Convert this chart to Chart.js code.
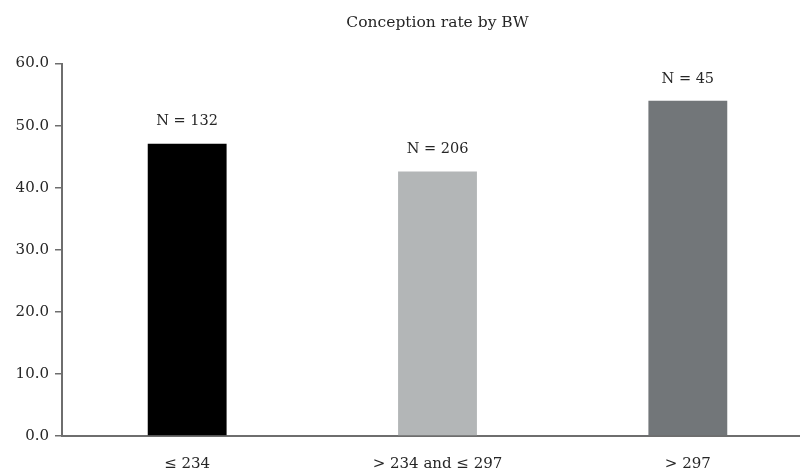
<!DOCTYPE html>
<html>
<head>
<meta charset="utf-8">
<script src="https://cdn.jsdelivr.net/npm/chart.js@4"></script>
<style>
  html, body { margin: 0; padding: 0; background: #fff; overflow: hidden; }
  #wrap { width: 813px; height: 470px; position: relative; }
</style>
</head>
<body>
<div id="wrap"><canvas id="c"></canvas></div>
<script>
const categories = ['≤ 234', '> 234 and ≤ 297', '> 297'];
const conceptionRate = [47.1, 42.6, 54.0];
const sampleLabels = ['N = 132', 'N = 206', 'N = 45'];
const barColors = ['#000000', '#b3b6b7', '#727679'];
const yTicks = [0, 10, 20, 30, 40, 50, 60];

const FONT = "'DejaVu Serif', serif";
const TEXT = '#262626';
const AXIS = '#6e6e6e';

const nLabelPlugin = {
  id: 'nLabels',
  afterDatasetsDraw(chart) {
    const ctx = chart.ctx;
    const meta = chart.getDatasetMeta(0);
    ctx.save();
    ctx.font = '14.5px ' + FONT;
    ctx.fillStyle = TEXT;
    ctx.textAlign = 'center';
    ctx.textBaseline = 'middle';
    meta.data.forEach((bar, i) => {
      ctx.fillText(sampleLabels[i], bar.x, bar.y - 22);
    });
    ctx.restore();
  }
};

new Chart(document.getElementById('c'), {
  type: 'bar',
  data: {
    labels: categories,
    datasets: [{
      data: conceptionRate,
      backgroundColor: barColors,
      borderWidth: 0,
      categoryPercentage: 1.0,
      barPercentage: 0.315
    }]
  },
  options: {
    responsive: true,
    maintainAspectRatio: false,
    animation: false,
    layout: { padding: { top: 14, left: 0, right: 0, bottom: 0 } },
    plugins: {
      legend: { display: false },
      tooltip: { enabled: false },
      title: {
        display: true,
        fullSize: false,
        text: 'Conception rate by BW',
        color: TEXT,
        font: { family: FONT, size: 15.5, weight: 'normal' },
        padding: { top: 0, bottom: 31 }
      }
    },
    scales: {
      x: {
        grid: { display: false },
        border: { display: true, color: AXIS, width: 2 },
        ticks: {
          color: TEXT,
          font: { family: FONT, size: 15 },
          padding: 11,
          maxRotation: 0
        },
        afterFit(scale) { scale.height = 34; }
      },
      y: {
        min: 0,
        max: 60,
        afterBuildTicks(scale) { scale.ticks = yTicks.map(v => ({ value: v })); },
        grid: {
          display: true,
          drawOnChartArea: false,
          drawTicks: true,
          tickLength: 7,
          color: AXIS,
          lineWidth: 1.5
        },
        border: { display: true, color: AXIS, width: 2 },
        ticks: {
          color: TEXT,
          font: { family: FONT, size: 15 },
          padding: 6,
          callback: (v) => Number(v).toFixed(1)
        },
        afterFit(scale) { scale.width = 62; }
      }
    }
  },
  plugins: [nLabelPlugin]
});
</script>
</body>
</html>
